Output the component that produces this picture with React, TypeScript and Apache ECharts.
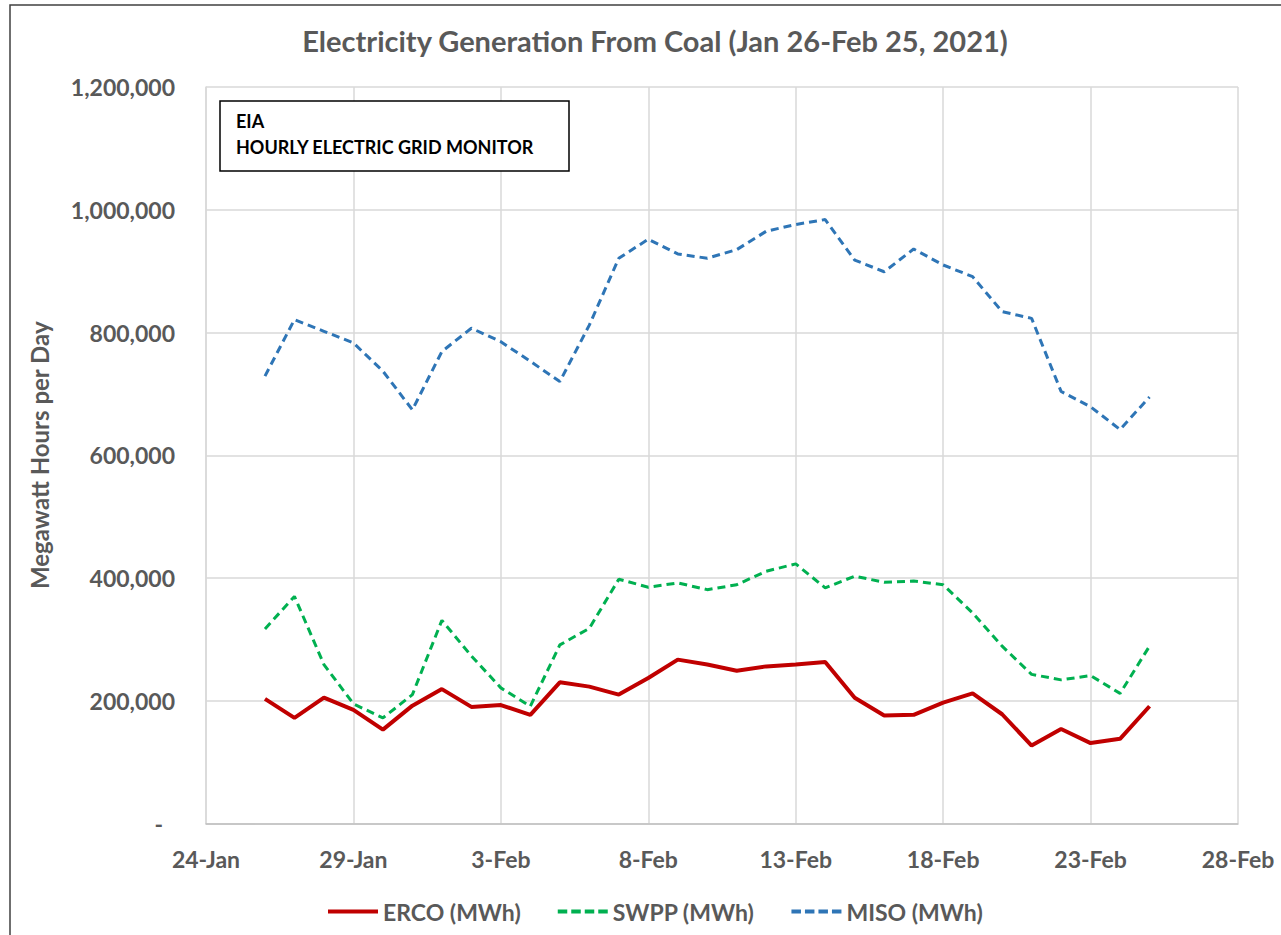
import React, { useEffect, useRef } from "react";
import * as echarts from "echarts";

const dates: string[] = [
  "2021-01-26", "2021-01-27", "2021-01-28", "2021-01-29", "2021-01-30", "2021-01-31",
  "2021-02-01", "2021-02-02", "2021-02-03", "2021-02-04", "2021-02-05", "2021-02-06",
  "2021-02-07", "2021-02-08", "2021-02-09", "2021-02-10", "2021-02-11", "2021-02-12",
  "2021-02-13", "2021-02-14", "2021-02-15", "2021-02-16", "2021-02-17", "2021-02-18",
  "2021-02-19", "2021-02-20", "2021-02-21", "2021-02-22", "2021-02-23", "2021-02-24",
  "2021-02-25",
];

const ercoValues: number[] = [
  203000, 172000, 205000, 185000, 153000, 192000, 219000, 190000, 193000, 177000,
  230000, 223000, 210000, 237000, 267000, 259000, 249000, 256000, 259000, 263000,
  205000, 176000, 177000, 197000, 212000, 178000, 127000, 154000, 131000, 138000,
  191000,
];

const swppValues: number[] = [
  317000, 370000, 259000, 195000, 172000, 210000, 331000, 273000, 221000, 191000,
  291000, 318000, 398000, 385000, 392000, 381000, 389000, 411000, 423000, 384000,
  403000, 393000, 395000, 389000, 343000, 289000, 243000, 234000, 241000, 212000,
  289000,
];

const misoValues: number[] = [
  729000, 821000, 802000, 783000, 737000, 674000, 769000, 807000, 785000, 753000,
  720000, 812000, 921000, 952000, 928000, 921000, 935000, 965000, 976000, 984000,
  918000, 899000, 936000, 910000, 891000, 834000, 823000, 704000, 679000, 642000,
  695000,
];

const seriesNames: string[] = ["ERCO (MWh)", "SWPP (MWh)", "MISO (MWh)"];
const yTicks: number[] = [0, 200000, 400000, 600000, 800000, 1000000, 1200000];
const axisStart = "2021-01-24";
const axisEnd = "2021-02-28";
const tickStepDays = 5;
const monthNames = ["Jan", "Feb", "Mar", "Apr", "May", "Jun", "Jul", "Aug", "Sep", "Oct", "Nov", "Dec"];

const DAY = 86400000;
const toDay = (s: string) => {
  const [y, m, d] = s.split("-").map(Number);
  return Date.UTC(y, m - 1, d) / DAY;
};
const originDay = toDay(axisStart);
const offset = (s: string) => toDay(s) - originDay;

const FONT = "Lato, 'Open Sans', sans-serif";
const GREY = "#595959";
const SOLID_ICON = "path://M0,0H50V4H0Z";
const DASH_ICON = "path://M0,0H9.5V4H0Z M13.5,0H23V4H13.5Z M27,0H36.5V4H27Z M40.5,0H50V4H40.5Z";

export default function App() {
  const ref = useRef<HTMLDivElement>(null);
  useEffect(() => {
    document.body.style.margin = "0";
    if (!ref.current) return;
    const chart = echarts.init(ref.current, undefined, { renderer: "svg" });
    const mk = (vals: number[]) => dates.map((d, i) => [offset(d), vals[i]]);
    const option: any = {
      animation: false,
      backgroundColor: "#ffffff",
      textStyle: { fontFamily: FONT },
      grid: { left: 206, top: 87, right: 43, bottom: 111.5, containLabel: false },
      xAxis: {
        type: "value",
        min: 0,
        max: offset(axisEnd),
        interval: tickStepDays,
        axisLine: { show: true, lineStyle: { color: "#bfbfbf", width: 1.5 } },
        axisTick: { show: false },
        splitLine: { show: true, lineStyle: { color: "#d9d9d9", width: 1.5 } },
        axisLabel: {
          margin: 24,
          fontSize: 23,
          fontWeight: "bold",
          color: GREY,
          fontFamily: FONT,
          formatter: (v: number) => {
            const dt = new Date((originDay + v) * DAY);
            return `${dt.getUTCDate()}-${monthNames[dt.getUTCMonth()]}`;
          },
        },
      },
      yAxis: {
        type: "value",
        min: yTicks[0],
        max: yTicks[yTicks.length - 1],
        interval: yTicks[1] - yTicks[0],
        name: "Megawatt Hours per Day",
        nameLocation: "middle",
        nameRotate: 90,
        nameGap: 155,
        nameTextStyle: { fontSize: 24, fontWeight: "bold", color: GREY, fontFamily: FONT },
        axisLine: { show: true, lineStyle: { color: "#d9d9d9", width: 1.5 } },
        axisTick: { show: false },
        splitLine: { show: true, lineStyle: { color: "#d9d9d9", width: 1.5 } },
        axisLabel: {
          margin: 31,
          fontSize: 23,
          fontWeight: "bold",
          color: GREY,
          fontFamily: FONT,
          formatter: (v: number) => (v === 0 ? "{dash|-}" : v.toLocaleString("en-US")),
          rich: { dash: { padding: [0, 12, 0, 0], fontSize: 23, fontWeight: "bold", color: GREY, fontFamily: FONT } },
        },
      },
      legend: {
        left: 323,
        top: 895,
        itemWidth: 50,
        itemHeight: 4,
        itemGap: 37,
        textStyle: { fontSize: 23, fontWeight: "bold", color: GREY, fontFamily: FONT },
        data: [
          { name: seriesNames[0], icon: SOLID_ICON },
          { name: seriesNames[1], icon: DASH_ICON },
          { name: seriesNames[2], icon: DASH_ICON },
        ],
      },
      series: [
        {
          name: seriesNames[0],
          type: "line",
          data: mk(ercoValues),
          symbol: "none",
          lineStyle: { color: "#c00000", width: 4, type: "solid" },
          itemStyle: { color: "#c00000" },
          z: 5,
        },
        {
          name: seriesNames[1],
          type: "line",
          data: mk(swppValues),
          symbol: "none",
          lineStyle: { color: "#00b050", width: 3, type: [8, 5] },
          itemStyle: { color: "#00b050" },
          z: 4,
        },
        {
          name: seriesNames[2],
          type: "line",
          data: mk(misoValues),
          symbol: "none",
          lineStyle: { color: "#2e75b6", width: 3, type: [8, 5] },
          itemStyle: { color: "#2e75b6" },
          z: 3,
        },
      ],
      graphic: [
        {
          type: "rect",
          shape: { x: 10, y: 5, width: 1300, height: 960 },
          style: { fill: "none", stroke: "#404040", lineWidth: 1.5 },
          silent: true,
        },
        {
          type: "text",
          x: 655,
          y: 40,
          style: {
            text: "Electricity Generation From Coal (Jan 26-Feb 25, 2021)",
            fontSize: 29,
            fontWeight: "bold",
            fill: GREY,
            fontFamily: FONT,
            textAlign: "center",
            textVerticalAlign: "middle",
          },
        },
        {
          type: "rect",
          shape: { x: 220, y: 101, width: 349, height: 70 },
          style: { fill: "#ffffff", stroke: "#000000", lineWidth: 1.5 },
          z: 10,
        },
        {
          type: "text",
          x: 236,
          y: 121,
          z: 11,
          style: {
            text: "EIA",
            fontSize: 18,
            fontWeight: "bold",
            fill: "#000",
            fontFamily: FONT,
            textVerticalAlign: "middle",
          },
        },
        {
          type: "text",
          x: 236,
          y: 147,
          z: 11,
          style: {
            text: "HOURLY ELECTRIC GRID MONITOR",
            fontSize: 18,
            fontWeight: "bold",
            fill: "#000",
            fontFamily: FONT,
            textVerticalAlign: "middle",
          },
        },
      ],
    };
    chart.setOption(option);
    return () => chart.dispose();
  }, []);
  return <div ref={ref} style={{ width: 1281, height: 935 }} />;
}
